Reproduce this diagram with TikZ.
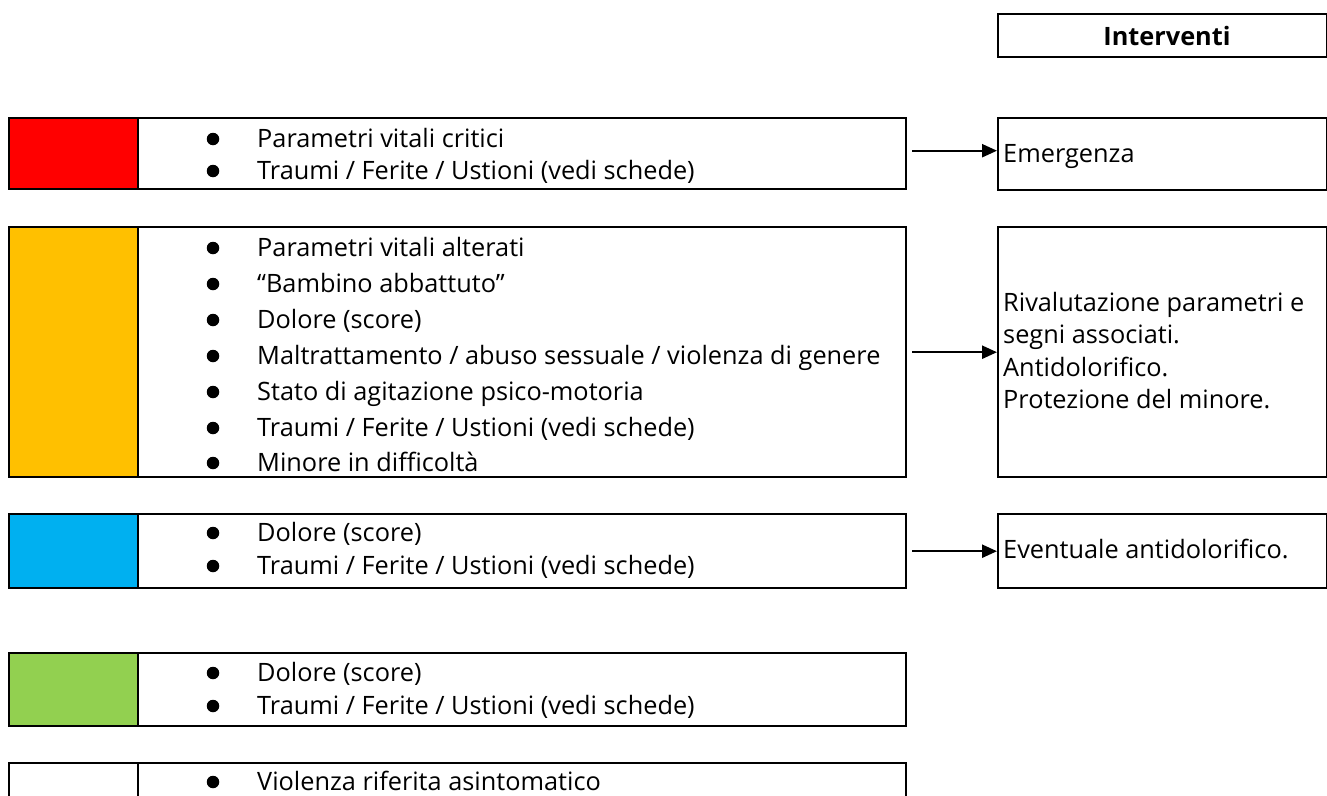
\documentclass[tikz,border=0pt]{standalone}
\usepackage{fontspec}
\setmainfont{Open Sans}
\usetikzlibrary{arrows.meta}
\definecolor{codered}{RGB}{255,0,0}
\definecolor{codeorange}{RGB}{255,192,0}
\definecolor{codeblue}{RGB}{0,176,240}
\definecolor{codegreen}{RGB}{146,208,80}
\newcommand\bodyfont{\fontsize{25.3}{30}\selectfont}
% one bullet line: dot + text on the given baseline
\newcommand\bulletline[3]{%
  \node[dot] (#1d) at (213,#2-8) {};
  \node[item] (#1) at (257,#2) {#3};}
\begin{document}
\begin{tikzpicture}[x=1pt,y=-1pt,
  frame/.style={draw=black, line width=2.4pt, anchor=north west, inner sep=0pt},
  item/.style={anchor=base west, inner sep=0pt, font=\bodyfont},
  dot/.style={circle, fill=black, inner sep=0pt, minimum size=12.5pt},
  link/.style={draw=black, line width=2.4pt, -{Triangle[length=15pt,width=13pt]}, shorten <=5pt}]
\useasboundingbox (0,0) rectangle (1327,795);
\clip (0,0) rectangle (1327,795);

% header
\node[frame, minimum width=329, minimum height=43] (head) at (997,13) {};
\node[anchor=base, inner sep=0pt, font=\bodyfont\bfseries] (headtext) at (1167,45) {Interventi};

% red row
\node[frame, minimum width=897, minimum height=71] (red) at (8,117) {};
\node[frame, fill=codered, minimum width=129, minimum height=71] (redcell) at (8,117) {};
\bulletline{ra}{147}{Parametri vitali critici}
\bulletline{rb}{179}{Traumi / Ferite / Ustioni (vedi schede)}
\node[frame, minimum width=329, minimum height=72] (redact) at (997,117) {};
\node[item] (redacttext) at (1003,162) {Emergenza};

% orange row
\node[frame, minimum width=897, minimum height=250] (orange) at (8,226) {};
\node[frame, fill=codeorange, minimum width=129, minimum height=250] (orangecell) at (8,226) {};
\bulletline{oa}{256}{Parametri vitali alterati}
\bulletline{ob}{292}{“Bambino abbattuto”}
\bulletline{oc}{328}{Dolore (score)}
\bulletline{od}{364}{Maltrattamento / abuso sessuale / violenza di genere}
\bulletline{oe}{400}{Stato di agitazione psico-motoria}
\bulletline{of}{436}{Traumi / Ferite / Ustioni (vedi schede)}
\bulletline{og}{471}{Minore in difficoltà}
\node[frame, minimum width=329, minimum height=250] (orangeact) at (997,226) {};
\node[item] (oacta) at (1003,311) {Rivalutazione parametri e};
\node[item] (oactb) at (1003,343.5) {segni associati.};
\node[item] (oactc) at (1003,376) {Antidolorifico.};
\node[item] (oactd) at (1003,408.5) {Protezione del minore.};

% blue row
\node[frame, minimum width=897, minimum height=74] (blue) at (8,513) {};
\node[frame, fill=codeblue, minimum width=129, minimum height=74] (bluecell) at (8,513) {};
\bulletline{ba}{541}{Dolore (score)}
\bulletline{bb}{574}{Traumi / Ferite / Ustioni (vedi schede)}
\node[frame, minimum width=329, minimum height=74] (blueact) at (997,513) {};
\node[item] (blueacttext) at (1003,558) {Eventuale antidolorifico.};

% green row
\node[frame, minimum width=897, minimum height=73] (green) at (8,652) {};
\node[frame, fill=codegreen, minimum width=129, minimum height=73] (greencell) at (8,652) {};
\bulletline{ga}{681}{Dolore (score)}
\bulletline{gb}{714}{Traumi / Ferite / Ustioni (vedi schede)}

% white row
\node[frame, minimum width=897, minimum height=73] (white) at (8,762) {};
\node[frame, minimum width=129, minimum height=73] (whitecell) at (8,762) {};
\bulletline{wa}{790}{Violenza riferita asintomatico}

% connectors
\coordinate (redout) at ([yshift=3pt]red.east);
\draw[link] (redout) -- (redact.west |- redout);
\draw[link] (orange.east) -- (orangeact.west |- orange.east);
\draw[link] (blue.east) -- (blueact.west |- blue.east);
\end{tikzpicture}
\end{document}
